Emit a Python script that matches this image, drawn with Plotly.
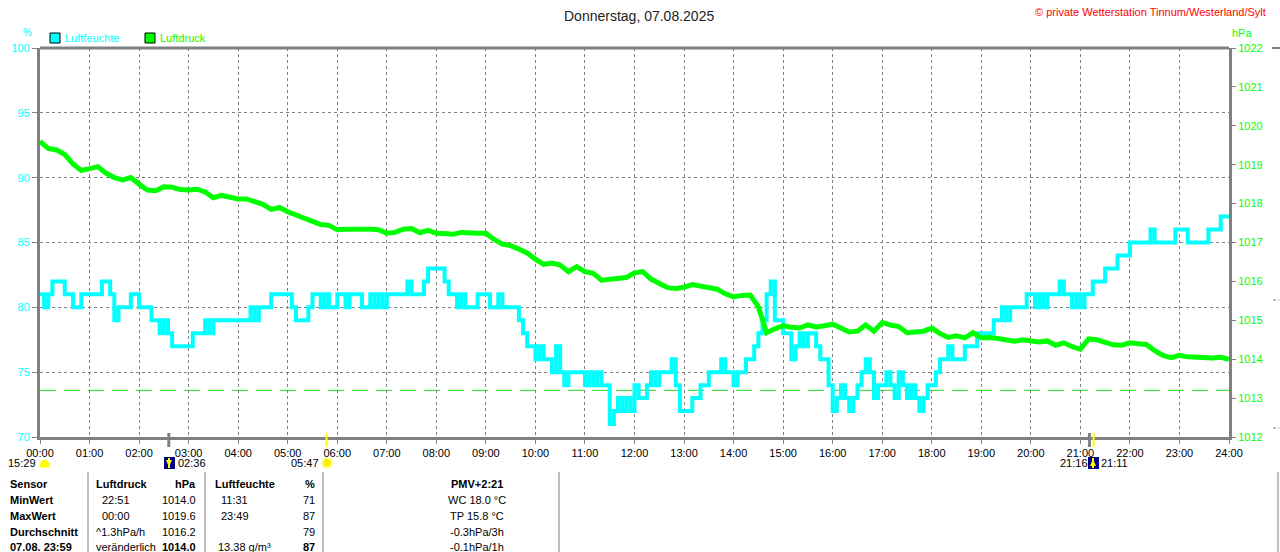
import plotly.graph_objects as go

# ---------------- data ----------------
title_text = "Donnerstag, 07.08.2025"
copyright_text = "© private Wetterstation Tinnum/Westerland/Sylt"

hour_labels = ["%02d:00" % h for h in range(25)]
hour_ticks = list(range(25))

# Luftfeuchte (%), 5-minute readings 00:00 .. 24:00
hum = [
    81, 80, 81, 82, 82, 82, 81, 81, 80, 80, 81, 81,   # 00
    81, 81, 81, 82, 82, 81, 79, 80, 80, 80, 81, 81,   # 01
    80, 80, 80, 79, 79, 78, 79, 78, 77, 77, 77, 77,   # 02
    77, 78, 78, 78, 79, 78, 79, 79, 79, 79, 79, 79,   # 03
    79, 79, 79, 80, 79, 80, 80, 80, 81, 81, 81, 81,   # 04
    81, 80, 79, 79, 79, 80, 81, 81, 80, 81, 80, 80,   # 05
    81, 81, 80, 81, 81, 81, 80, 80, 81, 80, 81, 80,   # 06
    81, 81, 81, 81, 81, 82, 81, 81, 81, 82, 83, 83,   # 07
    83, 83, 82, 81, 81, 80, 81, 80, 80, 80, 81, 81,   # 08
    81, 80, 80, 81, 80, 80, 80, 80, 79, 78, 77, 77,   # 09
    76, 77, 76, 76, 75, 77, 75, 74, 75, 75, 75, 75,   # 10
    74, 75, 74, 75, 74, 74, 71, 72, 73, 72, 73, 72,   # 11
    74, 73, 73, 74, 75, 74, 75, 75, 75, 76, 74, 72,   # 12
    72, 72, 73, 73, 74, 74, 75, 75, 75, 76, 75, 75,   # 13
    74, 75, 75, 76, 76, 77, 78, 79, 81, 82, 79, 79,   # 14
    78, 78, 76, 77, 78, 77, 78, 78, 77, 76, 76, 74,   # 15
    72, 73, 74, 73, 72, 73, 74, 75, 76, 75, 73, 74,   # 16
    74, 75, 74, 73, 75, 74, 73, 74, 73, 72, 73, 74,   # 17
    74, 75, 76, 76, 77, 76, 76, 76, 77, 77, 77, 78,   # 18
    78, 78, 78, 79, 79, 80, 79, 80, 80, 80, 80, 81,   # 19
    81, 80, 81, 80, 81, 81, 81, 82, 81, 81, 80, 81,   # 20
    80, 81, 81, 82, 82, 82, 83, 83, 83, 84, 84, 84,   # 21
    85, 85, 85, 85, 85, 86, 85, 85, 85, 85, 85, 86,   # 22
    86, 86, 85, 85, 85, 85, 85, 86, 86, 86, 87, 87,   # 23
    87,
]
hum_time = [i * 5 / 60 for i in range(len(hum))]

# Luftdruck (hPa), 10-minute readings 00:00 .. 24:00
press = [
    1019.60, 1019.42, 1019.38, 1019.26, 1019.02, 1018.85,   # 00
    1018.90, 1018.95, 1018.78, 1018.67, 1018.61, 1018.67,   # 01
    1018.50, 1018.35, 1018.33, 1018.43, 1018.42, 1018.36,   # 02
    1018.35, 1018.37, 1018.30, 1018.15, 1018.21, 1018.17,   # 03
    1018.12, 1018.12, 1018.05, 1017.98, 1017.85, 1017.90,   # 04
    1017.79, 1017.70, 1017.61, 1017.55, 1017.46, 1017.44,   # 05
    1017.33, 1017.34, 1017.34, 1017.37, 1017.34, 1017.33,   # 06
    1017.24, 1017.26, 1017.34, 1017.36, 1017.25, 1017.31,   # 07
    1017.24, 1017.23, 1017.21, 1017.26, 1017.24, 1017.24,   # 08
    1017.24, 1017.08, 1016.96, 1016.92, 1016.83, 1016.73,   # 09
    1016.57, 1016.44, 1016.47, 1016.42, 1016.25, 1016.38,   # 10
    1016.25, 1016.21, 1016.03, 1016.06, 1016.10, 1016.10,   # 11
    1016.22, 1016.25, 1016.06, 1015.96, 1015.84, 1015.82,   # 12
    1015.85, 1015.92, 1015.89, 1015.86, 1015.80, 1015.68,   # 13
    1015.60, 1015.64, 1015.65, 1015.35, 1014.68, 1014.78,   # 14
    1014.86, 1014.82, 1014.80, 1014.88, 1014.83, 1014.86,   # 15
    1014.90, 1014.80, 1014.70, 1014.72, 1014.88, 1014.72,   # 16
    1014.94, 1014.88, 1014.84, 1014.68, 1014.70, 1014.72,   # 17
    1014.80, 1014.66, 1014.56, 1014.60, 1014.55, 1014.68,   # 18
    1014.55, 1014.56, 1014.53, 1014.48, 1014.46, 1014.50,   # 19
    1014.48, 1014.44, 1014.47, 1014.36, 1014.42, 1014.32,   # 20
    1014.26, 1014.52, 1014.50, 1014.42, 1014.37, 1014.36,   # 21
    1014.42, 1014.40, 1014.38, 1014.22, 1014.10, 1014.04,   # 22
    1014.10, 1014.06, 1014.05, 1014.03, 1014.03, 1014.05,   # 23
    1014.00,
]
press_time = [i * 10 / 60 for i in range(len(press))]

ref_pressure = 1013.2

# sun / moon events (hours) and labels
moon_down_h = 2 + 36 / 60
sun_up_h = 5 + 47 / 60
moon_up_h = 21 + 11 / 60
sun_down_h = 21 + 16 / 60
event_labels = ["15:29", "02:36", "05:47", "21:16", "21:11"]

# table below the chart
tbl_sensor = ["Sensor", "MinWert", "MaxWert", "Durchschnitt", "07.08. 23:59"]
tbl_p_info = ["Luftdruck", "22:51", "00:00", "^1.3hPa/h", "veränderlich"]
tbl_p_val = ["hPa", "1014.0", "1019.6", "1016.2", "1014.0"]
tbl_h_info = ["Luftfeuchte", "11:31", "23:49", "", "13.38 g/m³"]
tbl_h_val = ["%", "71", "87", "79", "87"]
tbl_extra = ["PMV+2:21", "WC 18.0 °C", "TP 15.8 °C", "-0.3hPa/3h", "-0.1hPa/1h"]

# ---------------- styling ----------------
CYAN = "#00FFFF"
GREEN = "#00FF00"
GRAY = "#808080"
FONT = "Liberation Sans, Arial, sans-serif"

L, R, T, B = 40, 1229, 48, 437


def px(x):
    return (x - L) / (R - L)


def py(y):
    return (B - y) / (B - T)


fig = go.Figure()

fig.add_trace(go.Scatter(
    x=press_time, y=press, yaxis="y2", mode="lines",
    line=dict(color=GREEN, width=5), name="Luftdruck", hoverinfo="skip"))
fig.add_trace(go.Scatter(
    x=hum_time, y=hum, mode="lines",
    line=dict(color=CYAN, width=4, shape="hv"), name="Luftfeuchte", hoverinfo="skip"))

shapes = []
annotations = []

# reference pressure line
shapes.append(dict(type="line", xref="paper", x0=0, x1=1, yref="y2",
                   y0=ref_pressure, y1=ref_pressure,
                   line=dict(color="#22DD22", width=1, dash="16px,8px"), layer="below"))

# top frame line and small right marks
shapes.append(dict(type="line", xref="paper", yref="paper", x0=0, x1=1, y0=1, y1=1,
                   line=dict(color=GRAY, width=3)))
shapes.append(dict(type="line", xref="paper", yref="paper", x0=px(1272), x1=px(1280),
                   y0=py(48), y1=py(48), line=dict(color=GRAY, width=2)))
for yy in (300, 428):
    shapes.append(dict(type="line", xref="paper", yref="paper", x0=px(1273), x1=px(1276),
                       y0=py(yy), y1=py(yy), line=dict(color=GRAY, width=1)))
    shapes.append(dict(type="line", xref="paper", yref="paper", x0=px(1278), x1=px(1279),
                       y0=py(yy), y1=py(yy), line=dict(color=GRAY, width=1)))

# event tick marks on the x axis
for h, col, w in ((moon_down_h, GRAY, 3), (sun_up_h, "#FFFF00", 2),
                  (moon_up_h, GRAY, 3), (sun_down_h, "#FFFF00", 2)):
    shapes.append(dict(type="line", xref="x", yref="paper", x0=h, x1=h,
                       y0=py(433), y1=py(447), line=dict(color=col, width=w)))

# icons
# moon (15:29) dome
shapes.append(dict(type="path", xref="paper", yref="paper",
                   path="M %f,%f L %f,%f L %f,%f L %f,%f L %f,%f L %f,%f Z" % (
                       px(40), py(467), px(40), py(464), px(42), py(461),
                       px(46), py(460), px(49), py(463), px(49), py(467)),
                   fillcolor="#FFFF00", line=dict(color="#FFFF00", width=1)))
# moon set icon 02:36 and moon rise icon 21:11
for cx, up in ((169, False), (1093, True)):
    shapes.append(dict(type="rect", xref="paper", yref="paper",
                       x0=px(cx - 5), x1=px(cx + 6), y0=py(469), y1=py(457),
                       fillcolor="#000080", line=dict(width=0)))
    if up:
        pth = "M %f,%f L %f,%f L %f,%f Z" % (px(cx - 3), py(466), px(cx + 3), py(466), px(cx), py(459))
    else:
        pth = "M %f,%f L %f,%f L %f,%f Z" % (px(cx - 3), py(460), px(cx + 3), py(460), px(cx), py(467))
    shapes.append(dict(type="path", xref="paper", yref="paper", path=pth,
                       fillcolor="#FFFF00", line=dict(width=0)))
    shapes.append(dict(type="line", xref="paper", yref="paper", x0=px(cx), x1=px(cx),
                       y0=py(458), y1=py(468), line=dict(color="#FFFF00", width=2)))
# sun 05:47
shapes.append(dict(type="circle", xref="paper", yref="paper",
                   x0=px(321), x1=px(333), y0=py(469), y1=py(457),
                   fillcolor="#FFFFA0", line=dict(width=0)))
shapes.append(dict(type="circle", xref="paper", yref="paper",
                   x0=px(323), x1=px(331), y0=py(467), y1=py(459),
                   fillcolor="#FFEE00", line=dict(width=0)))

# legend boxes
for x0, col in ((50, CYAN), (145, GREEN)):
    shapes.append(dict(type="rect", xref="paper", yref="paper",
                       x0=px(x0), x1=px(x0 + 10), y0=py(43), y1=py(33),
                       fillcolor=col, line=dict(color="black", width=1)))

# table separators
for xs in (88, 205, 323, 559, 1278):
    shapes.append(dict(type="line", xref="paper", yref="paper", x0=px(xs), x1=px(xs),
                       y0=py(472), y1=py(553), line=dict(color=GRAY, width=1)))


def txt(s, x, y, color="black", size=11, anchor="left", bold=False):
    annotations.append(dict(
        text=("<b>%s</b>" % s) if bold and s else s, x=px(x), y=py(y),
        xref="paper", yref="paper", xanchor=anchor, yanchor="middle",
        showarrow=False, font=dict(family=FONT, size=size, color=color)))


txt(title_text, 639, 16, color="#222222", size=14, anchor="center")
txt(copyright_text, 1268, 12, color="#FF0000", size=11, anchor="right")
txt("%", 27, 33, color=CYAN, size=10, anchor="center")
txt("hPa", 1230, 33, color=GREEN, size=11)
txt("Luftfeuchte", 63, 38, color=CYAN, size=11)
txt("Luftdruck", 158, 38, color=GREEN, size=11)

# event labels
txt(event_labels[0], 38, 463, anchor="right")
txt(event_labels[1], 176, 463)
txt(event_labels[2], 321, 463, anchor="right")
txt(event_labels[3], 1090, 463, anchor="right")
txt(event_labels[4], 1099, 463)

# table
row_y = [484, 500, 516, 532, 547]
for i, yv in enumerate(row_y):
    head = (i == 0)
    last = (i == 4)
    txt(tbl_sensor[i], 8, yv, bold=(True))
    txt(tbl_p_info[i], 94 if (head or i >= 3) else 100, yv, bold=head)
    txt(tbl_p_val[i], 198, yv, anchor="right", bold=(head or last))
    txt(tbl_h_info[i], 213 if head else (216 if last else 219), yv, bold=head)
    txt(tbl_h_val[i], 317, yv, anchor="right", bold=(head or last))
    txt(tbl_extra[i], 477, yv, anchor="center", bold=head)

fig.update_layout(
    width=1280, height=552,
    margin=dict(l=L, r=1280 - R, t=T, b=552 - B, pad=0),
    paper_bgcolor="white", plot_bgcolor="white",
    showlegend=False,
    font=dict(family=FONT, size=11, color="black"),
    xaxis=dict(range=[0, 24], tickvals=hour_ticks, ticktext=hour_labels,
               showgrid=True, gridcolor=GRAY, griddash="3px,3px", gridwidth=1,
               showline=True, linecolor=GRAY, linewidth=3, mirror=False,
               ticks="outside", ticklen=4, tickcolor=GRAY, tickwidth=1,
               tickfont=dict(family=FONT, size=11, color="black"),
               zeroline=False, fixedrange=True),
    yaxis=dict(range=[70, 100], tickvals=[70, 75, 80, 85, 90, 95, 100],
               showgrid=True, gridcolor=GRAY, griddash="3px,3px", gridwidth=1,
               showline=True, linecolor=GRAY, linewidth=3,
               ticks="outside", ticklen=5, tickcolor=GRAY,
               tickfont=dict(family=FONT, size=11, color=CYAN),
               zeroline=False, fixedrange=True),
    yaxis2=dict(range=[1012, 1022], tickvals=list(range(1012, 1023)),
                overlaying="y", side="right", showgrid=False,
                showline=True, linecolor=GRAY, linewidth=3,
                ticks="outside", ticklen=4, tickcolor=GRAY,
                tickfont=dict(family=FONT, size=11, color=GREEN),
                zeroline=False, fixedrange=True),
    shapes=shapes, annotations=annotations,
)

fig.write_html("out.html", config={"displayModeBar": False},
               post_script="document.body.style.margin='0px';document.body.style.overflow='hidden';")
